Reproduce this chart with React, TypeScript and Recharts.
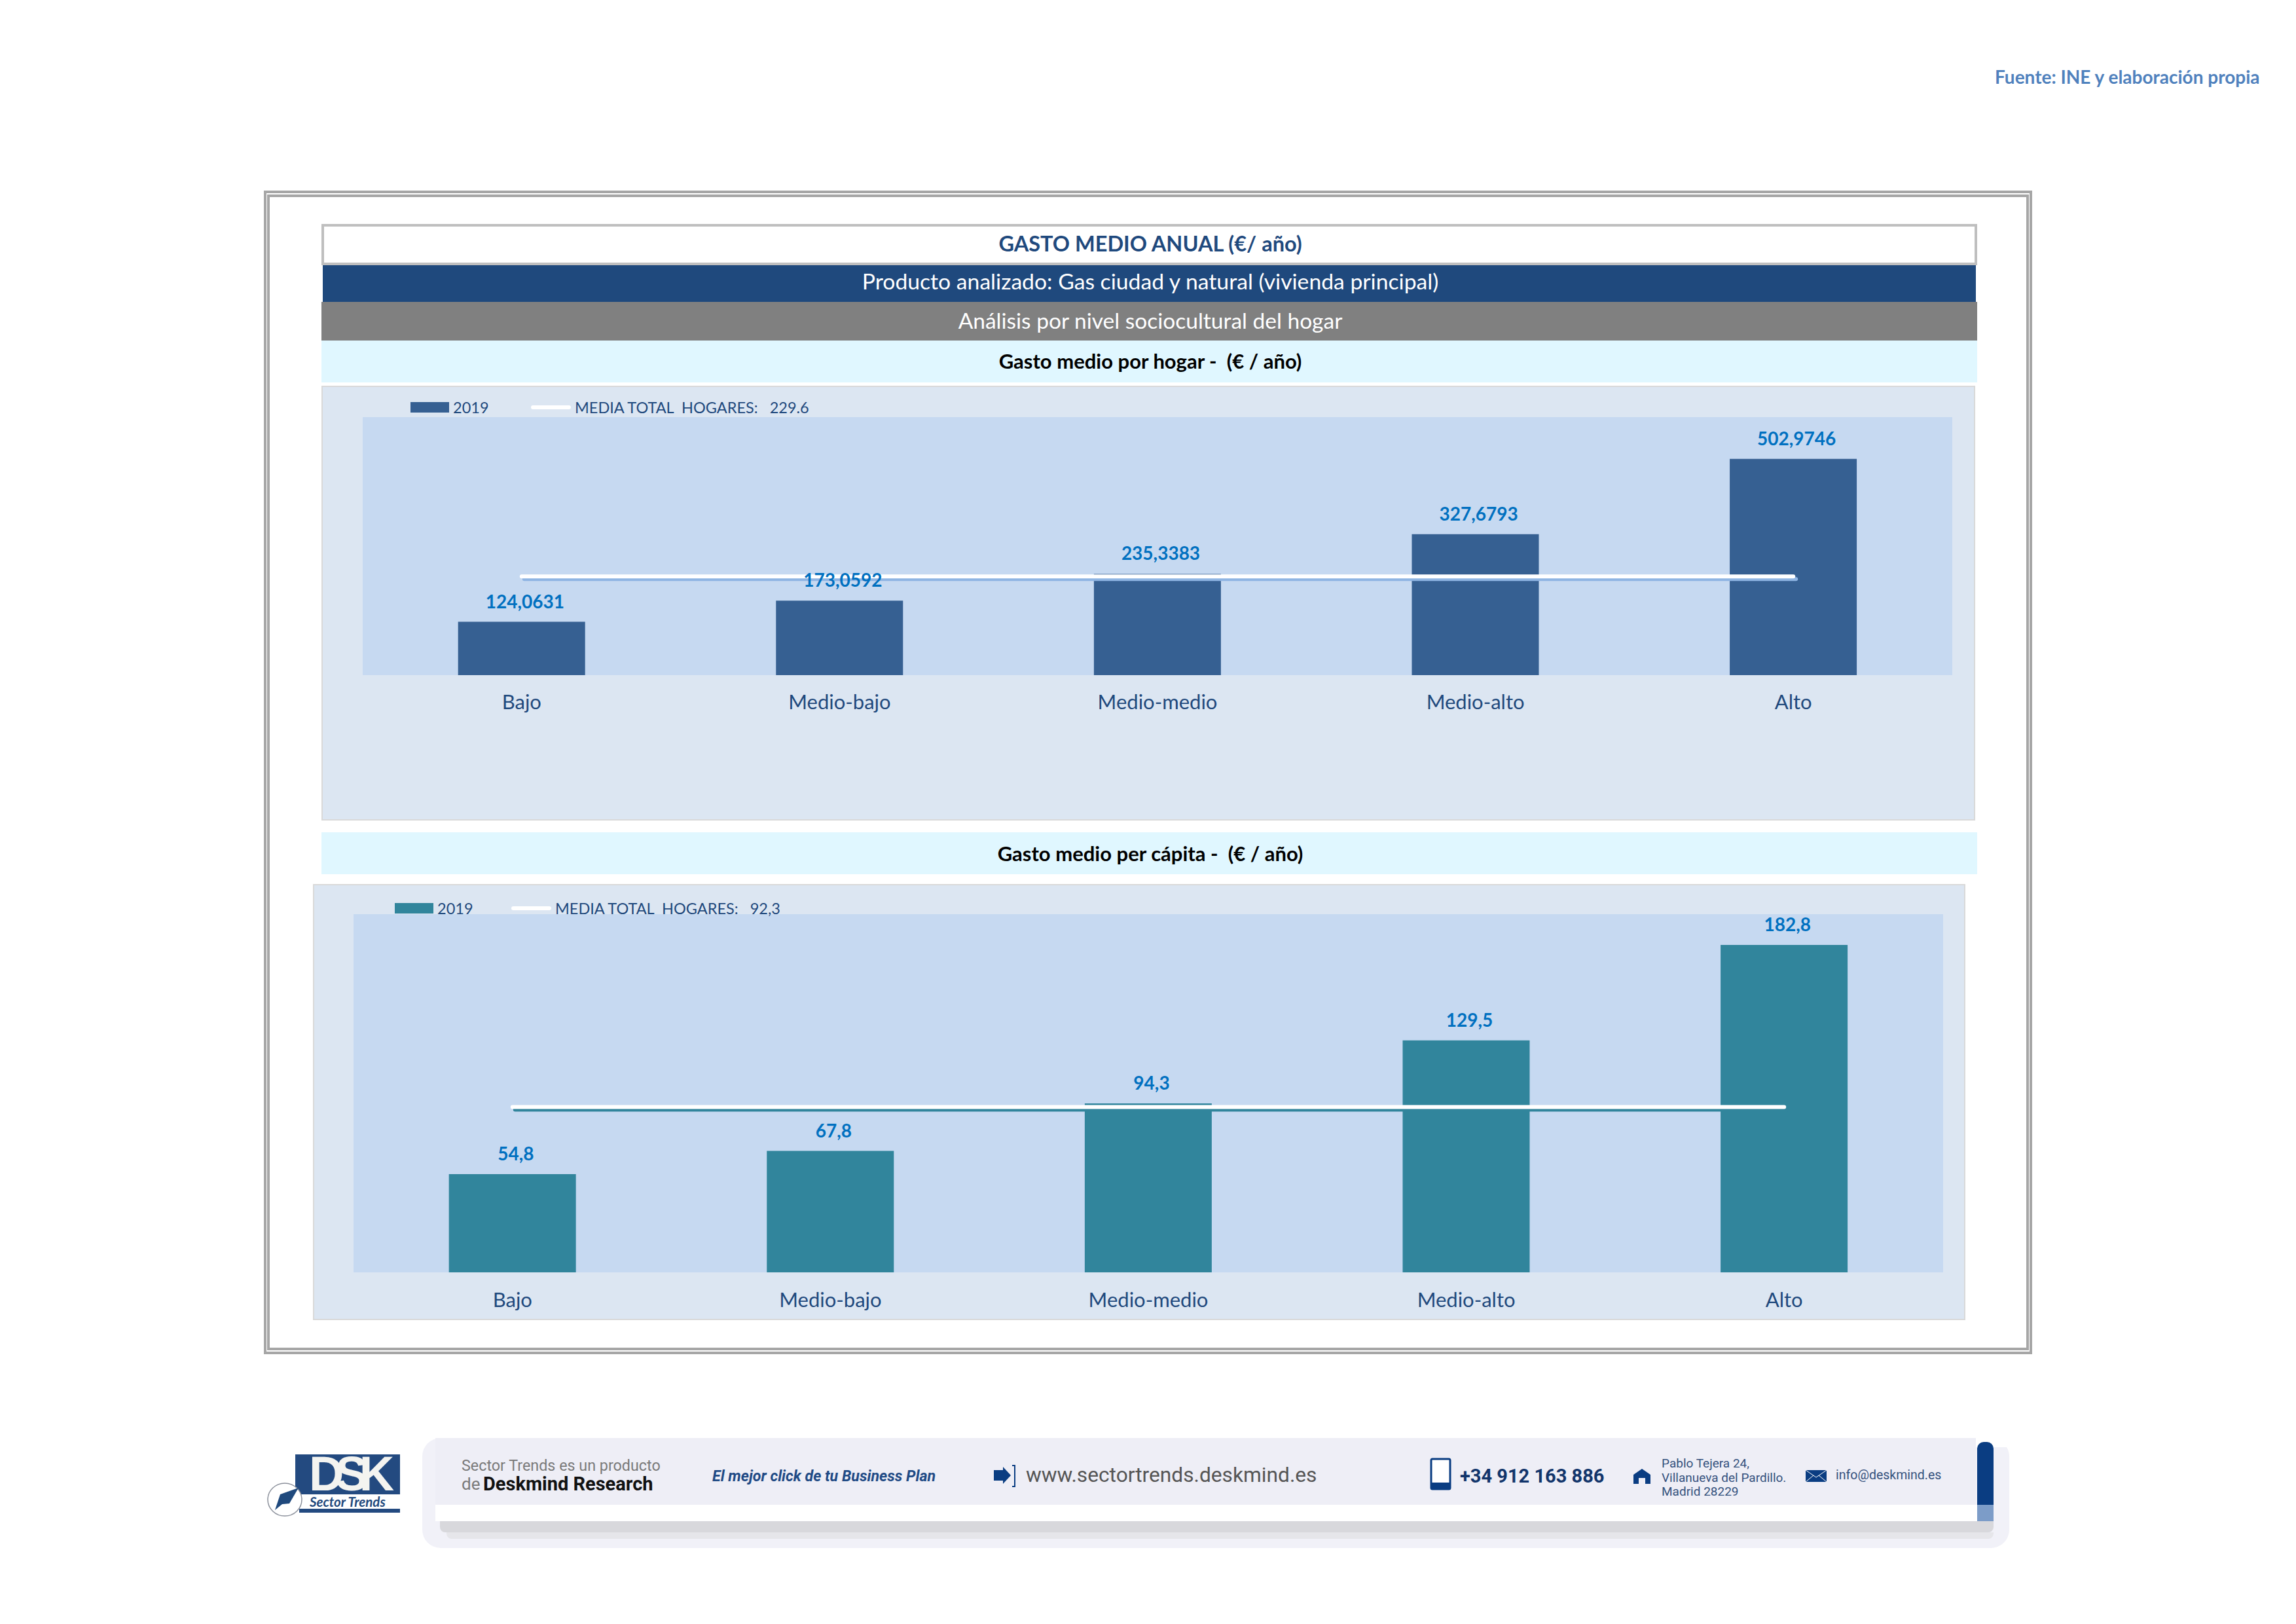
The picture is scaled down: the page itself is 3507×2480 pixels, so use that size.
import React from "react";
import { ComposedChart, Bar, Line, XAxis, YAxis, CartesianGrid, LabelList, Legend } from "recharts";

const categories = ["Bajo", "Medio-bajo", "Medio-medio", "Medio-alto", "Alto"];
const gastoHogar = [124.0631, 173.0592, 235.3383, 327.6793, 502.9746];
const mediaHogar = [229.6, 229.6, 229.6, 229.6, 229.6];
const gastoCapita = [54.8, 67.8, 94.3, 129.5, 182.8];
const mediaCapita = [92.3, 92.3, 92.3, 92.3, 92.3];
const FONT = "Lato, 'Open Sans', sans-serif";

const toRows = (gasto: number[], media: number[]) =>
  categories.map((name, i) => ({ name, gasto: gasto[i], media: media[i] }));

const coma = (v: any) => String(v).replace(".", ",");

function Txt({ x, y, size, color, bold, italic, center, family, spacing, lh, children }: any) {
  return (
    <div
      style={{
        position: "absolute",
        left: x,
        top: y,
        transform: center ? "translate(-50%,-50%)" : "translateY(-50%)",
        fontFamily: family || FONT,
        fontSize: size,
        color,
        fontWeight: bold ? 700 : 400,
        fontStyle: italic ? "italic" : "normal",
        letterSpacing: spacing || 0,
        lineHeight: lh || 1,
        whiteSpace: "pre",
      }}
    >
      {children}
    </div>
  );
}

function Box({ x, y, w, h, bg, border, radius }: any) {
  return (
    <div
      style={{
        position: "absolute",
        left: x,
        top: y,
        width: w,
        height: h,
        background: bg,
        border,
        borderRadius: radius,
        boxSizing: "border-box",
      }}
    />
  );
}

function LegendRow({ payload, lineGap }: any) {
  const bar = payload?.find((p: any) => p.type !== "line");
  const line = payload?.find((p: any) => p.type === "line");
  return (
    <div style={{ position: "relative", height: 24, fontFamily: FONT, fontSize: 23.5, color: "#1f497d", whiteSpace: "pre" }}>
      <div style={{ position: "absolute", left: 0, top: 4, width: 59, height: 16, background: bar?.color }} />
      <span style={{ position: "absolute", left: 65, top: 0, lineHeight: "24px" }}>{bar?.value}</span>
      <div style={{ position: "absolute", left: lineGap, top: 9, width: 61, height: 6, borderRadius: 3, background: "#ffffff" }} />
      <span style={{ position: "absolute", left: lineGap + 67, top: 0, lineHeight: "24px" }}>{line?.value}</span>
    </div>
  );
}

function Panel({ x, y, w, h, margin, axisHeight, rows, max, barColor, shadow, barName, lineName, legend, tickMargin }: any) {
  return (
    <div style={{ position: "absolute", left: x, top: y, width: w, height: h, background: "#dce6f2", boxSizing: "border-box", outline: "2px solid #d9d9d9", outlineOffset: -2 }}>
      <ComposedChart width={w} height={h} data={rows} margin={margin} barCategoryGap="30%">
        <CartesianGrid fill="#c6d9f1" horizontal={false} vertical={false} stroke="none" />
        <XAxis
          dataKey="name"
          height={axisHeight}
          axisLine={false}
          tickLine={false}
          interval={0}
          tickMargin={tickMargin}
          tick={{ fontFamily: FONT, fontSize: 31, fill: "#1f497d" }}
        />
        <YAxis hide domain={[0, max]} />
        <Legend
          layout="horizontal"
          verticalAlign="middle"
          align="center"
          wrapperStyle={{ left: legend.x, top: legend.y, width: 700, height: 24 }}
          content={(p: any) => <LegendRow payload={p.payload} lineGap={legend.gap} />}
        />
        <Bar dataKey="gasto" name={barName} fill={barColor} isAnimationActive={false} />
        <Line
          dataKey="media"
          name={lineName}
          stroke="#ffffff"
          strokeWidth={6}
          strokeLinecap="round"
          dot={false}
          activeDot={false}
          style={{ filter: `drop-shadow(4px 4px 0 ${shadow})` }}
          isAnimationActive={false}
        />
        <Line dataKey="gasto" stroke="none" dot={false} activeDot={false} legendType="none" isAnimationActive={false}>
          <LabelList
            dataKey="gasto"
            position="top"
            offset={21}
            dx={5}
            formatter={coma}
            style={{ fontFamily: FONT, fontSize: 28, fontWeight: 700, fill: "#0070c0" }}
          />
        </Line>
      </ComposedChart>
    </div>
  );
}

function Footer() {
  const navy = "#1f497d";
  return (
    <>
      <Box x={645} y={2196} w={2424} h={168} bg="#f1f1f8" radius={28} />
      <Box x={3018} y={2190} w={55} h={20} bg="#ffffff" />
      <Box x={665} y={2196} w={2353} h={102} bg="#eeeef6" />
      <Box x={665} y={2298} w={2380} h={25} bg="#ffffff" />
      <Box x={672} y={2323} w={2373} h={17} bg="#d8d8dc" radius="0 0 8px 8px" />
      <Box x={682} y={2340} w={2363} h={10} bg="#e6e6ea" radius="0 0 8px 8px" />
      <Box x={3020} y={2202} w={25} h={96} bg="#0a3d82" radius="10px 10px 0 0" />
      <Box x={3020} y={2298} w={25} h={25} bg="#7c9cc8" />

      <svg width={3507} height={2480} style={{ position: "absolute", left: 0, top: 0 }}>
        <rect x={451} y={2221} width={160} height={61} fill="#234a80" />
        <rect x={457} y={2304} width={154} height={6} fill="#234a80" />
        <ellipse cx={435} cy={2290} rx={26} ry={25} fill="#ffffff" stroke="#8a8f9a" strokeWidth={1.5} />
        <polygon points="456,2272 428,2282 420,2306 431,2297 442,2296" fill={navy} />
        <polygon points="1518,2245 1532,2245 1532,2240 1544,2253 1532,2266 1532,2261 1518,2261" fill="#0a3d82" />
        <path d="M1546 2238 h4 v32 h-4" fill="none" stroke="#0a3d82" strokeWidth={2} />
        <rect x={2186} y={2228} width={29} height={46} rx={2} fill="#ffffff" stroke="#0a3d82" strokeWidth={3} />
        <rect x={2186} y={2264} width={29} height={10} fill="#0a3d82" />
        <path d="M2495 2266 v-14 l13 -9 l13 9 v14 h-8 v-9 h-10 v9 z" fill="#0a3d82" />
        <rect x={2758} y={2245} width={32} height={18} fill="#0a3d82" />
        <path d="M2758 2245 l16 11 l16 -11 M2758 2263 l12 -10 M2790 2263 l-12 -10" fill="none" stroke="#ffffff" strokeWidth={1} />
      </svg>

      <Txt x={472} y={2251} size={74} lh={0.78} bold color="#f4f4f0" family="'Liberation Sans'" spacing={-13}>DSK</Txt>
      <Txt x={473} y={2293} size={20.5} bold italic color={navy}>Sector Trends</Txt>
      <Txt x={705} y={2239} size={23.3} color="#7a7a7a" family="Roboto">Sector Trends es un producto</Txt>
      <Txt x={705} y={2266} size={26} color="#7a7a7a" family="Roboto">de</Txt>
      <Txt x={738} y={2266} size={29} bold color="#111111" family="Roboto">Deskmind Research</Txt>
      <Txt x={1088} y={2255} size={23.2} bold italic color="#1f4a85" family="Roboto">El mejor click de tu Business Plan</Txt>
      <Txt x={1567} y={2253} size={31.7} color="#555555" family="Roboto">www.sectortrends.deskmind.es</Txt>
      <Txt x={2230} y={2254} size={29} bold color="#12356b" family="Roboto">+34 912 163 886</Txt>
      <Txt x={2538} y={2234} size={19} color="#34517d" family="Roboto">Pablo Tejera 24,</Txt>
      <Txt x={2538} y={2256} size={19} color="#34517d" family="Roboto">Villanueva del Pardillo.</Txt>
      <Txt x={2538} y={2277} size={19} color="#34517d" family="Roboto">Madrid 28229</Txt>
      <Txt x={2804} y={2253} size={19.5} color="#34517d" family="Roboto">info@deskmind.es</Txt>
    </>
  );
}

export default function App() {
  return (
    <div style={{ position: "absolute", left: 0, top: 0, width: 3507, height: 2480, background: "#ffffff", overflow: "hidden" }}>
      <Txt x={3047} y={117} size={28} bold color="#4f81bd">Fuente: INE y elaboración propia</Txt>

      <Box x={403} y={291} w={2701} h={1777} border="4px solid #a6a6a6" />
      <Box x={408} y={297} w={2691} h={1765} border="4px solid #a6a6a6" />

      <Box x={491} y={342} w={2529} h={63} border="4px solid #bfbfbf" bg="#ffffff" />
      <Box x={493} y={405} w={2525} h={56} bg="#1f497d" />
      <Box x={491} y={461} w={2529} h={59} bg="#808080" />
      <Box x={491} y={520} w={2529} h={64} bg="#e0f7ff" />
      <Txt x={1757} y={372} size={32.5} bold center color="#1f497d">GASTO MEDIO ANUAL (€/ año)</Txt>
      <Txt x={1757} y={430} size={33.7} center color="#ffffff">Producto analizado: Gas ciudad y natural (vivienda principal)</Txt>
      <Txt x={1757} y={490} size={33.5} center color="#ffffff">Análisis por nivel sociocultural del hogar</Txt>
      <Txt x={1757} y={551} size={31} bold center color="#000000">Gasto medio por hogar -  (€ / año)</Txt>

      <Panel
        x={491}
        y={589}
        w={2526}
        h={664}
        margin={{ top: 48, right: 35, bottom: 0, left: 63 }}
        axisHeight={222}
        tickMargin={24}
        rows={toRows(gastoHogar, mediaHogar)}
        max={600}
        barColor="#366092"
        shadow="#8eb4e3"
        barName="2019"
        lineName="MEDIA TOTAL  HOGARES:   229.6"
        legend={{ x: 136, y: 21, gap: 184 }}
      />

      <Box x={491} y={1271} w={2529} h={64} bg="#e0f7ff" />
      <Txt x={1757} y={1303} size={31} bold center color="#000000">Gasto medio per cápita -  (€ / año)</Txt>

      <Panel
        x={478}
        y={1350}
        w={2524}
        h={666}
        margin={{ top: 46, right: 34, bottom: 0, left: 62 }}
        axisHeight={73}
        tickMargin={25}
        rows={toRows(gastoCapita, mediaCapita)}
        max={200}
        barColor="#31859c"
        shadow="#31859c"
        barName="2019"
        lineName="MEDIA TOTAL  HOGARES:   92,3"
        legend={{ x: 125, y: 25, gap: 178 }}
      />

      <Footer />
    </div>
  );
}
